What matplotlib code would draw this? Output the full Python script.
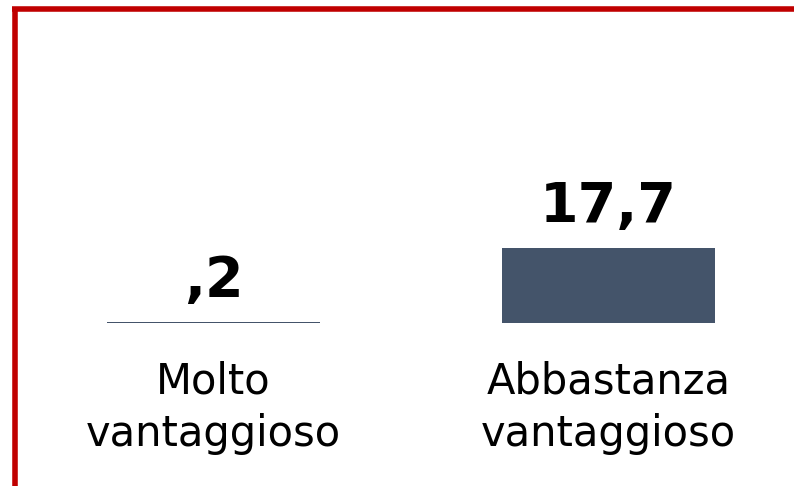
import matplotlib
matplotlib.use('Agg')
import matplotlib.pyplot as plt
from matplotlib.lines import Line2D

categorie = ['Molto\nvantaggioso', 'Abbastanza\nvantaggioso']
valori = [0.2, 17.7]
etichette = [',2', '17,7']

W, H = 794, 486
fig = plt.figure(figsize=(W / 100, H / 100), dpi=100)

# axes: baseline at y=323px, bar of 17.7 reaches y=248px
base_px = 323
top_px = 23
left_px = 16
ax = fig.add_axes([left_px / W, 1 - base_px / H, (W - left_px) / W, (base_px - top_px) / H])
ymax = 17.7 * (base_px - top_px) / (base_px - 248)
ax.set_ylim(0, ymax)
ax.set_xlim(-0.5, (W - left_px) / 395 - 0.5)

ax.bar(range(len(valori)), valori, width=0.54, color='#44546A')

for i, (v, t) in enumerate(zip(valori, etichette)):
    ax.annotate(t, (i, v), xytext=(0, 19), textcoords='offset points',
                ha='center', va='baseline', fontsize=40, fontweight='bold',
                color='black')

ax.set_xticks(range(len(categorie)))
ax.set_xticklabels(categorie, fontsize=30, linespacing=1.32)
ax.tick_params(axis='x', length=0, pad=27)
ax.set_yticks([])
for s in ax.spines.values():
    s.set_visible(False)

# red frame on top and left
fig.add_artist(Line2D([12 / W, 1], [1 - 9.5 / H, 1 - 9.5 / H], color='#C00000', lw=4,
                      transform=fig.transFigure, solid_capstyle='butt'))
fig.add_artist(Line2D([14.5 / W, 14.5 / W], [0, 1 - 7 / H], color='#C00000', lw=4,
                      transform=fig.transFigure, solid_capstyle='butt'))

fig.savefig('out.png', dpi=100)
